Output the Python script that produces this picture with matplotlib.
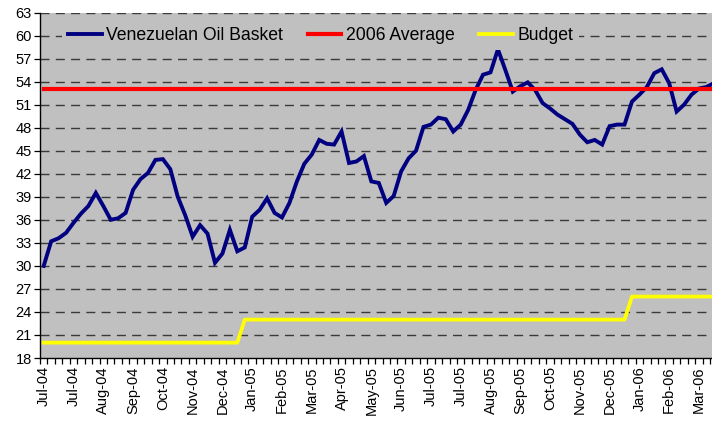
import matplotlib
matplotlib.use("Agg")
import matplotlib.pyplot as plt
import numpy as np

# weekly prices, USD/bbl
basket = [30.0, 33.2, 33.6, 34.3, 35.6, 36.8, 37.8, 39.5, 37.8, 36.0,
          36.2, 36.9, 39.9, 41.3, 42.1, 43.8, 43.9, 42.6, 39.0, 36.6,
          33.8, 35.3, 34.2, 30.4, 31.6, 34.7, 31.9, 32.4, 36.4, 37.3,
          38.8, 36.9, 36.3, 38.2, 41.0, 43.3, 44.5, 46.4, 45.9, 45.8,
          47.5, 43.4, 43.6, 44.3, 41.0, 40.8, 38.2, 39.1, 42.3, 44.0,
          45.0, 48.1, 48.4, 49.3, 49.1, 47.5, 48.4, 50.3, 52.9, 54.9,
          55.2, 58.2, 55.5, 52.7, 53.4, 53.9, 52.9, 51.2, 50.5, 49.7,
          49.1, 48.5, 47.1, 46.1, 46.4, 45.8, 48.2, 48.4, 48.4, 51.4,
          52.3, 53.3, 55.1, 55.6, 53.8, 50.1, 51.0, 52.3, 53.1, 53.3,
          53.8]
avg_2006 = [53.05] * len(basket)
budget = [20] * 27 + [23] * 52 + [26] * 12

tick_labels = ["Jul-04", "Jul-04", "Aug-04", "Sep-04", "Oct-04", "Nov-04",
               "Dec-04", "Jan-05", "Feb-05", "Mar-05", "Apr-05", "May-05",
               "Jun-05", "Jul-05", "Jul-05", "Aug-05", "Sep-05", "Oct-05",
               "Nov-05", "Dec-05", "Jan-06", "Feb-06", "Mar-06"]

plt.rcParams["font.family"] = ["Liberation Sans", "DejaVu Sans"]

x = np.arange(len(basket))

fig = plt.figure(figsize=(7.12, 4.28), dpi=100)
ax = fig.add_axes([40 / 712, 70 / 428, 672 / 712, 345.5 / 428])
ax.set_facecolor("#C0C0C0")

ax.plot(x, basket, color="#000080", lw=2.8, label="Venezuelan Oil Basket",
        solid_joinstyle="miter", zorder=3)
ax.plot(x, avg_2006, color="#FF0000", lw=3.0, label="2006 Average", zorder=3)
ax.plot(x, budget, color="#FFFF00", lw=2.7, label="Budget", zorder=3)

ax.set_ylim(18, 63)
ax.set_yticks(np.arange(18, 64, 3))
ax.set_xlim(-0.45, 89.75)

ax.set_xticks(np.arange(0, len(tick_labels) * 4, 4))
ax.set_xticklabels(tick_labels, rotation=90)
ax.set_xticks(np.arange(-0.5, 90, 1), minor=True)
ax.tick_params(axis="x", which="major", length=0, pad=6, labelsize=10.5)
ax.tick_params(axis="x", which="minor", length=4, width=0.9, direction="out")
ax.tick_params(axis="y", length=4, width=0.9, labelsize=10.5, pad=2)

for yv in np.arange(21, 64, 3):
    ax.axhline(yv, color="#3a3a3a", lw=1.0, ls=(0, (6.5, 4.5)), zorder=1)

for s in ("top", "right"):
    ax.spines[s].set_visible(False)
for s in ("left", "bottom"):
    ax.spines[s].set_linewidth(1.0)

leg = ax.legend(loc="upper left", bbox_to_anchor=(0.033, 0.975), ncol=3,
                frameon=True, fontsize=12.7, handlelength=1.9,
                columnspacing=1.4, handletextpad=0.25, borderaxespad=0,
                borderpad=0.35)
leg.get_frame().set_facecolor("#C0C0C0")
leg.get_frame().set_edgecolor("none")
leg.get_frame().set_alpha(1)

fig.savefig("out.png", dpi=100)
